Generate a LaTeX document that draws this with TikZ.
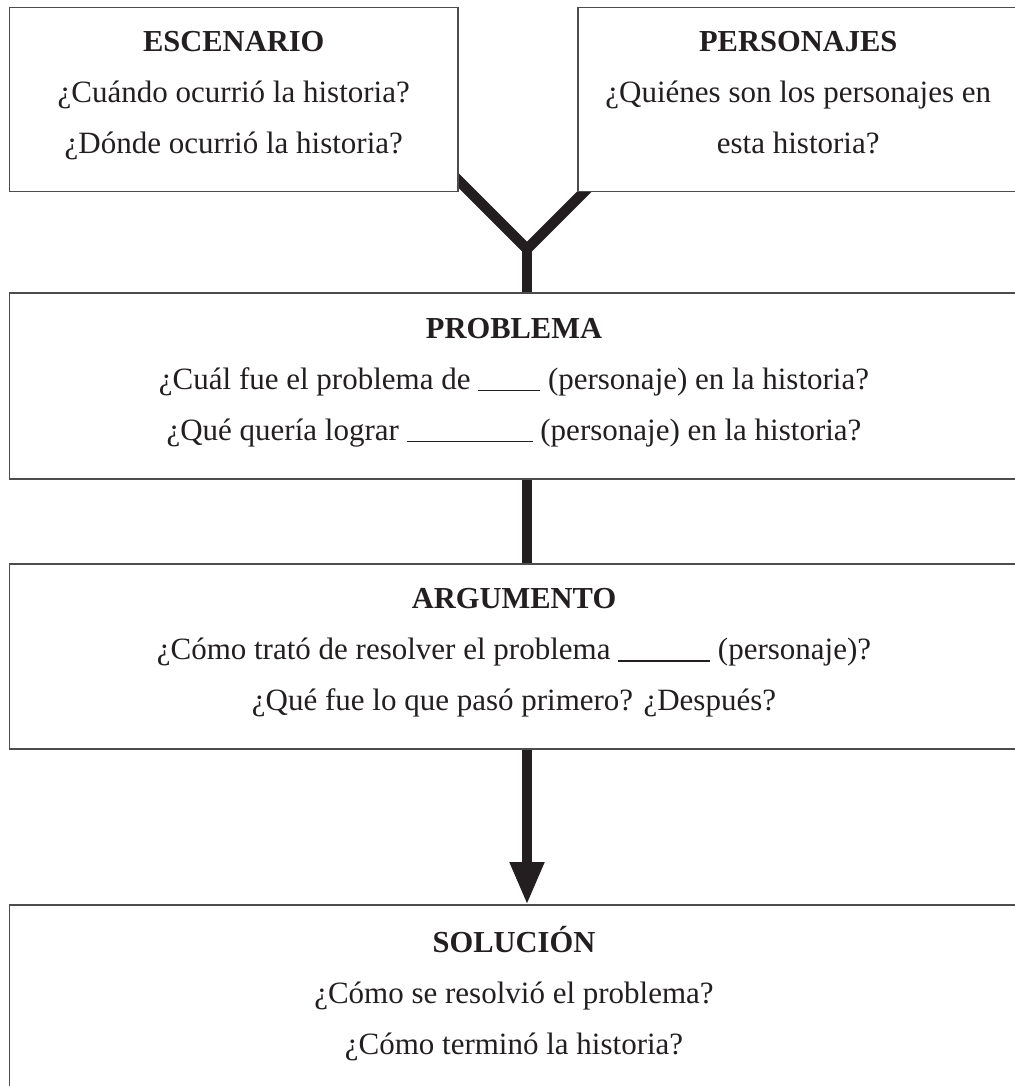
\documentclass[tikz,border=0pt]{standalone}
\usepackage{fontspec}
\setmainfont{Liberation Serif}
\usetikzlibrary{positioning,arrows.meta,backgrounds}

\definecolor{tinta}{HTML}{231F20}
\definecolor{borde}{HTML}{4D4D4D}
\newcommand{\vstrut}{\rule[-14pt]{0pt}{44pt}}
\newcommand{\linea}[1]{\rule[-2pt]{#1}{1.2pt}}
\newcommand{\titulo}[1]{{\fontsize{30.5}{51}\selectfont\bfseries #1}}

\tikzset{
  caja/.style={draw=borde, line width=1.3pt, fill=white, text=tinta,
    align=center, inner sep=0pt, outer sep=0pt, minimum height=185pt,
    font=\fontsize{31}{51}\selectfont,
    execute at begin node=\vstrut, execute at end node=\vstrut},
  conector/.style={draw=tinta, line width=10.5pt}
}

\begin{document}
\begin{tikzpicture}[x=1pt,y=-1pt]
\useasboundingbox (0,0) rectangle (1014,1086);
\node[caja, minimum width=448.5pt, minimum height=184pt] (escenario) at (233.75,99.5)
  {\titulo{ESCENARIO}\\¿Cuándo ocurrió la historia?\\¿Dónde ocurrió la historia?};
\node[caja, minimum width=440.5pt, minimum height=184pt] (personajes) at (798.25,99.5)
  {\titulo{PERSONAJES}\\¿Quiénes son los personajes en\\esta historia?};
\node[caja, minimum width=1009pt, minimum height=186pt] (problema) at (514,386)
  {\titulo{PROBLEMA}\\¿Cuál fue el problema de \linea{62pt} (personaje) en la historia?\\¿Qué quería lograr \linea{126pt} (personaje) en la historia?};
\node[caja, minimum width=1009pt, below=85pt of problema] (argumento)
  {\titulo{ARGUMENTO}\\¿Cómo trató de resolver el problema \linea{92pt} (personaje)?\\¿Qué fue lo que pasó primero? ¿Después?};
\node[caja, minimum width=1009pt, below=156pt of argumento] (solucion)
  {\titulo{SOLUCIÓN}\\¿Cómo se resolvió el problema?\\¿Cómo terminó la historia?};

% conectores
\coordinate (fork) at (527,249);
\coordinate (forkL) at (430,152);
\coordinate (forkR) at (624,152);
\begin{scope}[on background layer]
\draw[conector] (forkL) -- (fork) -- (forkR);
\draw[conector] (fork) -- (fork |- problema.north);
\draw[conector] (problema.south -| fork) -- (argumento.north -| fork);
\draw[conector, -{Triangle[width=32pt,length=43pt]}] (argumento.south -| fork) -- (solucion.north -| fork);
\end{scope}
\end{tikzpicture}
\end{document}
